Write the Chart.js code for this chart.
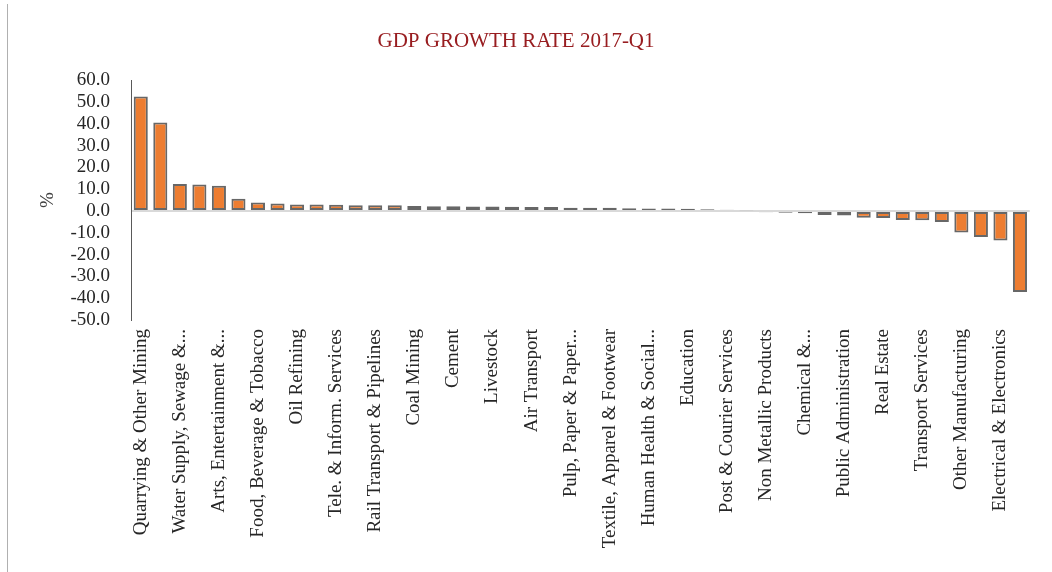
<!DOCTYPE html>
<html>
<head>
<meta charset="utf-8">
<script src="https://cdn.jsdelivr.net/npm/chart.js@4.4.1/dist/chart.umd.min.js"></script>
<style>
  html, body { margin: 0; padding: 0; background: #ffffff; }
  #wrap { position: relative; width: 1052px; height: 572px; }
  #edge { position: absolute; left: 7px; top: 4px; width: 1px; height: 568px; background: #b0b0b0; }
  canvas { position: absolute; left: 0; top: 0; }
</style>
</head>
<body>
<div id="wrap">
  <canvas id="c" width="1052" height="572"></canvas>
  <div id="edge"></div>
</div>
<script>
// Category names (only every other one is printed on the axis in the source chart)
const categories = [
  "Quarrying & Other Mining", "",
  "Water Supply, Sewage &...", "",
  "Arts, Entertainment &...", "",
  "Food, Beverage & Tobacco", "",
  "Oil Refining", "",
  "Tele. & Inform. Services", "",
  "Rail Transport & Pipelines", "",
  "Coal Mining", "",
  "Cement", "",
  "Livestock", "",
  "Air Transport", "",
  "Pulp, Paper & Paper...", "",
  "Textile, Apparel & Footwear", "",
  "Human Health & Social...", "",
  "Education", "",
  "Post & Courier Services", "",
  "Non Metallic Products", "",
  "Chemical &...", "",
  "Public Administration", "",
  "Real Estate", "",
  "Transport Services", "",
  "Other Manufacturing", "",
  "Electrical & Electronics", ""
];

// GDP growth rate 2017-Q1, %
const growthRate = [
  52.5, 40.6, 12.4, 12.2, 11.6, 5.6, 3.9, 3.4, 3.0, 3.0,
  2.9, 2.6, 2.6, 2.6, 2.3, 2.2, 2.2, 2.1, 2.1, 1.9,
  1.8, 1.8, 1.5, 1.5, 1.5, 1.3, 1.1, 1.1, 1.0, 0.8,
  0.6, 0.3, -0.6, -0.8, -1.0, -1.8, -2.1, -3.1, -3.2, -4.1,
  -4.2, -5.0, -9.9, -11.9, -13.5, -37.1
];

const yTicks = [60, 50, 40, 30, 20, 10, 0, -10, -20, -30, -40, -50];

const titleText = "GDP GROWTH RATE 2017-Q1";
const yTitle = "%";

const serif = "'Liberation Serif', 'DejaVu Serif', serif";

new Chart(document.getElementById('c'), {
  type: 'bar',
  data: {
    labels: categories,
    datasets: [{
      label: 'GDP growth',
      data: growthRate,
      backgroundColor: '#ED7D31',
      borderColor: '#676767',
      borderWidth: 2,
      borderSkipped: false,
      barPercentage: 0.72,
      categoryPercentage: 1.0
    }]
  },
  options: {
    responsive: false,
    animation: false,
    devicePixelRatio: 1,
    layout: { padding: { left: 0, right: 20, top: 0, bottom: 0 } },
    plugins: {
      legend: { display: false },
      tooltip: { enabled: false },
      title: {
        display: true,
        text: titleText,
        color: '#981d20',
        font: { family: serif, size: 21, weight: 'normal' },
        padding: { top: 29, bottom: 26 }
      }
    },
    scales: {
      x: {
        grid: { display: false, drawTicks: false },
        border: { display: false },
        ticks: {
          autoSkip: false,
          minRotation: 90,
          maxRotation: 90,
          padding: 9,
          color: '#262626',
          font: { family: serif, size: 19 },
          callback: function (v, i) { return categories[i]; }
        },
        afterFit: function (s) { s.height = 252; }
      },
      y: {
        min: -50,
        max: 60,
        afterBuildTicks: function (s) { s.ticks = yTicks.map(v => ({ value: v })); },
        grid: {
          drawTicks: false,
          lineWidth: 2,
          color: function (ctx) { return ctx.tick && ctx.tick.value === 0 ? '#d9d9d9' : 'rgba(0,0,0,0)'; }
        },
        border: { display: true, color: '#595959', width: 1 },
        ticks: {
          autoSkip: false,
          padding: 21,
          color: '#262626',
          font: { family: serif, size: 19, lineHeight: 1.0 },
          callback: function (v) { return Number(v).toFixed(1); }
        },
        title: {
          display: true,
          text: yTitle,
          color: '#404040',
          font: { family: serif, size: 19 },
          padding: { top: 37, bottom: 0 }
        },
        afterFit: function (s) { s.width = 131; }
      }
    }
  }
});
</script>
</body>
</html>
